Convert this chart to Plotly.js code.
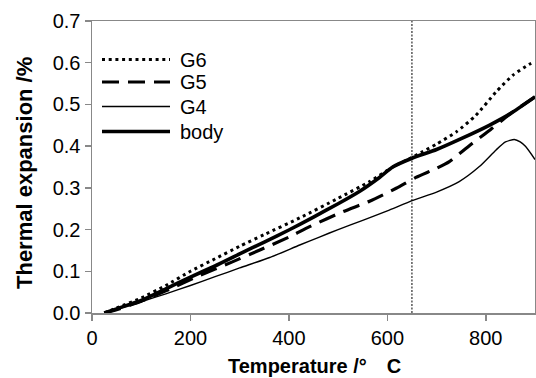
<!DOCTYPE html>
<html>
<head>
<meta charset="utf-8">
<script src="https://cdn.plot.ly/plotly-3.0.1.min.js"></script>
<style>html,body{margin:0;padding:0;background:#fff;}#chart{width:536px;height:378px;}</style>
</head>
<body>
<div id="chart"></div>
<script>
// ---- data ----
const seriesNames = ["G6", "G5", "G4", "body"];

const tempG6 = [25, 50, 100, 150, 200, 250, 300, 350, 422, 500, 564, 611, 650, 672, 700, 740, 780, 821, 855, 888, 895];
const valG6  = [0, 0.012, 0.036, 0.066, 0.1, 0.13, 0.16, 0.188, 0.228, 0.275, 0.315, 0.35, 0.373, 0.387, 0.405, 0.434, 0.474, 0.53, 0.57, 0.596, 0.6];

const tempG5 = [25, 50, 100, 150, 219, 284, 341, 402, 442, 510, 564, 618, 658, 700, 726, 773, 810, 850, 900];
const valG5  = [0, 0.008, 0.028, 0.053, 0.09, 0.122, 0.151, 0.183, 0.207, 0.243, 0.268, 0.299, 0.325, 0.347, 0.363, 0.407, 0.44, 0.478, 0.518];

const tempG4 = [25, 81, 100, 150, 200, 250, 300, 361, 422, 462, 500, 550, 600, 652, 700, 746, 787, 821, 840, 858, 870, 881, 900];
const valG4  = [0, 0.02, 0.027, 0.046, 0.066, 0.087, 0.108, 0.133, 0.163, 0.182, 0.2, 0.222, 0.245, 0.27, 0.29, 0.315, 0.351, 0.391, 0.41, 0.416, 0.41, 0.399, 0.368];

const tempBody = [25, 50, 100, 150, 200, 250, 300, 350, 400, 450, 500, 544, 584, 611, 650, 700, 750, 807, 850, 900];
const valBody  = [0, 0.01, 0.03, 0.058, 0.086, 0.113, 0.142, 0.17, 0.199, 0.23, 0.262, 0.292, 0.325, 0.35, 0.371, 0.392, 0.418, 0.45, 0.478, 0.518];

const refTemp = [650];           // vertical reference line
const xTicks = [0, 200, 400, 600, 800];
const yTicks = [0, 0.1, 0.2, 0.3, 0.4, 0.5, 0.6, 0.7];

// ---- styles ----
const styles = [
  {color: "#000", width: 3, dash: "3px,3.7px"},
  {color: "#000", width: 3.2, dash: "17px,9px"},
  {color: "#000", width: 1.4, dash: "solid"},
  {color: "#000", width: 3.6, dash: "solid"}
];
const temps = [tempG6, tempG5, tempG4, tempBody];
const vals = [valG6, valG5, valG4, valBody];

const traces = seriesNames.map((n, i) => ({
  type: "scatter", mode: "lines", name: n,
  x: temps[i], y: vals[i],
  line: {color: styles[i].color, width: styles[i].width, dash: styles[i].dash, shape: "spline", smoothing: 0.6},
  showlegend: false, hoverinfo: "skip"
}));

const W = 536, H = 378;
const m = {l: 92, r: 1, t: 21, b: 65};
const pw = W - m.l - m.r, ph = H - m.t - m.b;
const px2x = p => (p - m.l) / pw;
const py2y = p => (H - m.b - p) / ph;

const FONT = "Liberation Sans, Arial, sans-serif";

// custom legend (long line samples)
const legendY = [59.5, 82, 106.5, 131.5];
const shapes = [{
  type: "line", xref: "x", yref: "paper", x0: refTemp[0], x1: refTemp[0], y0: 0, y1: 1,
  line: {color: "#000", width: 1, dash: "2px,1.5px"}
}];
const annotations = [];
seriesNames.forEach((n, i) => {
  shapes.push({
    type: "line", xref: "paper", yref: "paper",
    x0: px2x(102), x1: px2x(170), y0: py2y(legendY[i]), y1: py2y(legendY[i]),
    line: {color: "#000", width: styles[i].width, dash: styles[i].dash}
  });
  annotations.push({
    xref: "paper", yref: "paper", x: px2x(178), y: py2y(legendY[i]),
    xanchor: "left", yanchor: "middle", text: n, showarrow: false,
    font: {family: FONT, size: 20, color: "#000"}
  });
});

// axis titles
annotations.push({
  xref: "paper", yref: "paper", x: px2x(24), y: py2y(173), xanchor: "center", yanchor: "middle",
  text: "Thermal expansion /%", textangle: -90, showarrow: false,
  font: {family: FONT, size: 22, color: "#000", weight: "bold"}
});
annotations.push({
  xref: "paper", yref: "paper", x: px2x(314), y: py2y(366), xanchor: "center", yanchor: "middle",
  text: "Temperature /°\u3000C", showarrow: false,
  font: {family: "Liberation Sans, Noto Sans CJK JP, sans-serif", size: 20, color: "#000", weight: "bold"}
});

const axisCommon = {
  showgrid: false, zeroline: false, showline: true, linecolor: "#888", linewidth: 1.5,
  mirror: true, ticks: "outside", ticklen: 6, tickcolor: "#888", tickwidth: 1.5,
  tickfont: {family: FONT, size: 20, color: "#000"}
};

const layout = {
  width: W, height: H, margin: m,
  paper_bgcolor: "#fff", plot_bgcolor: "#fff",
  showlegend: false,
  xaxis: Object.assign({}, axisCommon, {range: [0, 900], tickvals: xTicks, ticktext: xTicks.map(String)}),
  yaxis: Object.assign({}, axisCommon, {range: [0, 0.7], tickvals: yTicks, ticktext: yTicks.map(v => v.toFixed(1))}),
  shapes: shapes, annotations: annotations
};

Plotly.newPlot("chart", traces, layout, {staticPlot: true, displayModeBar: false});
</script>
</body>
</html>
